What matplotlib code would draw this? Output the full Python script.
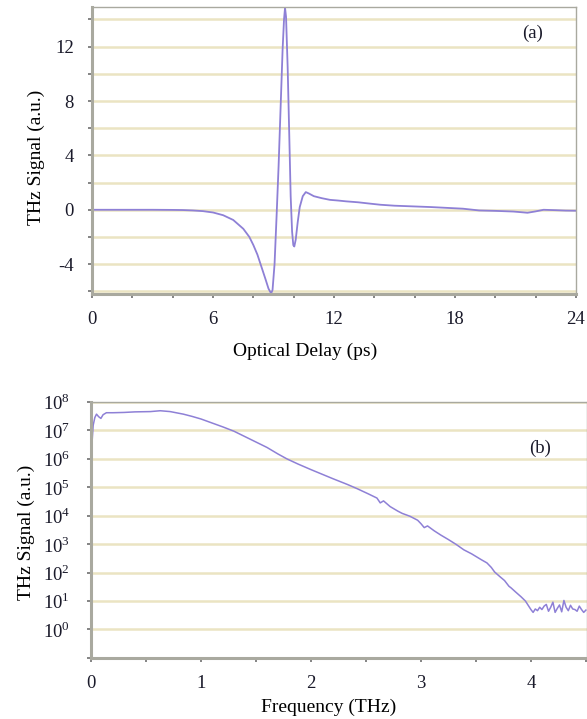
"""THz time-domain pulse (a) and its amplitude spectrum (b)."""

import matplotlib

matplotlib.use("Agg")
import matplotlib.pyplot as plt
import numpy as np

# (a) time-domain waveform
delay_ps = [0, 1, 2, 3, 4, 4.5, 5, 5.5, 6, 6.5, 7, 7.5, 7.8, 8.0, 8.2, 8.4, 8.6,
            8.75, 8.88, 8.95, 9.05, 9.15, 9.25, 9.35, 9.45, 9.52, 9.57, 9.62,
            9.7, 9.78, 9.85, 9.92, 9.98, 10.03, 10.1, 10.2, 10.3, 10.45, 10.6,
            10.75, 11.0, 11.4, 11.8, 12.2, 12.6, 13.2, 13.8, 14.3, 15.0, 15.9,
            16.8, 17.6, 18.4, 19.2, 20.0, 20.9, 21.3, 21.6, 22.0, 22.4, 23.0,
            23.5, 24.0]
signal_au = [0.0, 0.0, 0.0, 0.0, -0.01, -0.02, -0.05, -0.1, -0.2, -0.4, -0.75,
             -1.4, -2.0, -2.6, -3.3, -4.2, -5.1, -5.8, -6.15, -5.9, -4.0, -0.5,
             3.2, 7.5, 11.8, 14.0, 14.85, 14.2, 10.5, 5.5, 1.0, -1.6, -2.6, -2.7,
             -2.2, -0.9, 0.2, 1.0, 1.3, 1.2, 1.0, 0.85, 0.73, 0.68, 0.62, 0.55,
             0.45, 0.37, 0.3, 0.25, 0.2, 0.14, 0.08, -0.05, -0.08, -0.13, -0.18,
             -0.22, -0.12, 0.0, -0.03, -0.06, -0.07]

# (b) amplitude spectrum, log10 of THz signal
freq_thz = [0.0, 0.01, 0.02, 0.035, 0.05, 0.07, 0.09, 0.11, 0.14, 0.2, 0.3, 0.4,
            0.54, 0.63, 0.72, 0.84, 0.92, 1.0, 1.1, 1.2, 1.3, 1.4, 1.5, 1.6,
            1.7, 1.78, 1.88, 2.0, 2.1, 2.2, 2.33, 2.42, 2.52, 2.6, 2.63, 2.66,
            2.72, 2.79, 2.83, 2.9, 2.97, 3.0, 3.03, 3.06, 3.12, 3.18, 3.25,
            3.32, 3.39, 3.46, 3.55, 3.6, 3.64, 3.67, 3.72, 3.76, 3.8, 3.82,
            3.86, 3.91, 3.95, 3.98, 4.0, 4.02, 4.04, 4.06, 4.08, 4.1, 4.12,
            4.14, 4.16, 4.18, 4.2, 4.22, 4.24, 4.26, 4.28, 4.3, 4.32, 4.34,
            4.36, 4.38, 4.4, 4.42, 4.44, 4.46, 4.48, 4.5]
spec_log10 = [5.8, 6.6, 7.18, 7.45, 7.57, 7.48, 7.42, 7.55, 7.62, 7.62, 7.63,
              7.65, 7.66, 7.69, 7.66, 7.57, 7.49, 7.4, 7.26, 7.12, 6.97, 6.78,
              6.59, 6.4, 6.17, 6.0, 5.82, 5.62, 5.46, 5.3, 5.1, 4.95, 4.77,
              4.62, 4.45, 4.52, 4.32, 4.16, 4.08, 3.98, 3.84, 3.72, 3.58, 3.64,
              3.47, 3.32, 3.16, 2.99, 2.8, 2.66, 2.45, 2.34, 2.18, 2.02, 1.85,
              1.72, 1.52, 1.46, 1.32, 1.15, 1.0, 0.82, 0.7, 0.6, 0.72, 0.66,
              0.78, 0.7, 0.82, 0.88, 0.64, 0.78, 0.96, 0.6, 0.74, 0.86, 0.62,
              1.02, 0.78, 0.66, 0.85, 0.72, 0.7, 0.64, 0.82, 0.7, 0.6, 0.68]
spec_decades = list(range(-1, 9))
spec_tick_labels = ["", "$\\mathrm{10}^{0}$", "$\\mathrm{10}^{1}$", "$\\mathrm{10}^{2}$",
                    "$\\mathrm{10}^{3}$", "$\\mathrm{10}^{4}$", "$\\mathrm{10}^{5}$",
                    "$\\mathrm{10}^{6}$", "$\\mathrm{10}^{7}$", "$\\mathrm{10}^{8}$"]

LINE = "#8e80d6"
GRID = "#ebe4c2"
FRAME = "#a9a99f"
TEXT = "#1a1a2a"

plt.rcParams.update({
    "font.family": ["Liberation Serif", "DejaVu Serif"],
    "font.size": 13.5,
    "axes.unicode_minus": False,
    "mathtext.fontset": "custom",
    "mathtext.rm": "Liberation Serif",
    "text.color": TEXT,
    "xtick.color": "#707070",
    "ytick.color": "#707070",
    "xtick.labelcolor": TEXT,
    "ytick.labelcolor": TEXT,
})

fig = plt.figure(figsize=(5.87, 7.19), dpi=100)
ax1 = fig.add_axes([0.157, 0.591, 0.824, 0.399])
ax2 = fig.add_axes([0.155, 0.085, 0.845, 0.356])


def frame(ax):
    for side, sp in ax.spines.items():
        sp.set_color(FRAME)
        sp.set_linewidth(1.0)
    ax.spines["left"].set_linewidth(2.2)
    ax.spines["bottom"].set_linewidth(2.2)
    ax.tick_params(which="both", direction="out", length=3, width=1.2)
    ax.set_axisbelow(True)


# (a)
ax1.plot(delay_ps, signal_au, color=LINE, lw=1.3)
ax1.set_xlim(0, 24)
ax1.set_ylim(-6.2, 14.9)
ax1.set_xticks([0, 6, 12, 18, 24])
ax1.set_xticks(np.arange(0, 25, 2), minor=True)
ax1.set_yticks([-4, 0, 4, 8, 12])
ax1.set_yticks(np.arange(-6, 15, 2), minor=True)
ax1.grid(which="both", axis="y", color=GRID, lw=1.8)
ax1.tick_params(axis="x", pad=9)
ax1.tick_params(axis="y", pad=10)
ax1.set_ylabel("THz Signal (a.u.)", fontsize=14)
ax1.yaxis.set_label_coords(-0.097, 0.477)
ax1.set_xlabel("Optical Delay (ps)", fontsize=14)
ax1.xaxis.set_label_coords(0.44, -0.17)
ax1.text(0.91, 0.91, "(a)", transform=ax1.transAxes, fontsize=13.5,
         ha="center", va="center")
frame(ax1)

# (b)
ax2.semilogy(freq_thz, np.power(10.0, spec_log10), color=LINE, lw=1.1)
ax2.set_xlim(0, 4.51)
ax2.set_ylim(0.1, 1e8)
ax2.set_xticks([0, 1, 2, 3, 4])
ax2.set_xticks(np.arange(0, 4.6, 0.5), minor=True)
ax2.set_yticks([10.0 ** d for d in spec_decades])
ax2.set_yticklabels(spec_tick_labels)
ax2.yaxis.set_minor_locator(matplotlib.ticker.NullLocator())
ax2.grid(which="major", axis="y", color=GRID, lw=1.8)
ax2.tick_params(axis="x", pad=9)
ax2.tick_params(axis="y", pad=12)
ax2.set_ylabel("THz Signal (a.u.)", fontsize=14)
ax2.yaxis.set_label_coords(-0.113, 0.49)
ax2.set_xlabel("Frequency (THz)", fontsize=14)
ax2.xaxis.set_label_coords(0.48, -0.16)
ax2.text(0.905, 0.82, "(b)", transform=ax2.transAxes, fontsize=13.5,
         ha="center", va="center")
frame(ax2)

fig.savefig("out.png", dpi=100)
